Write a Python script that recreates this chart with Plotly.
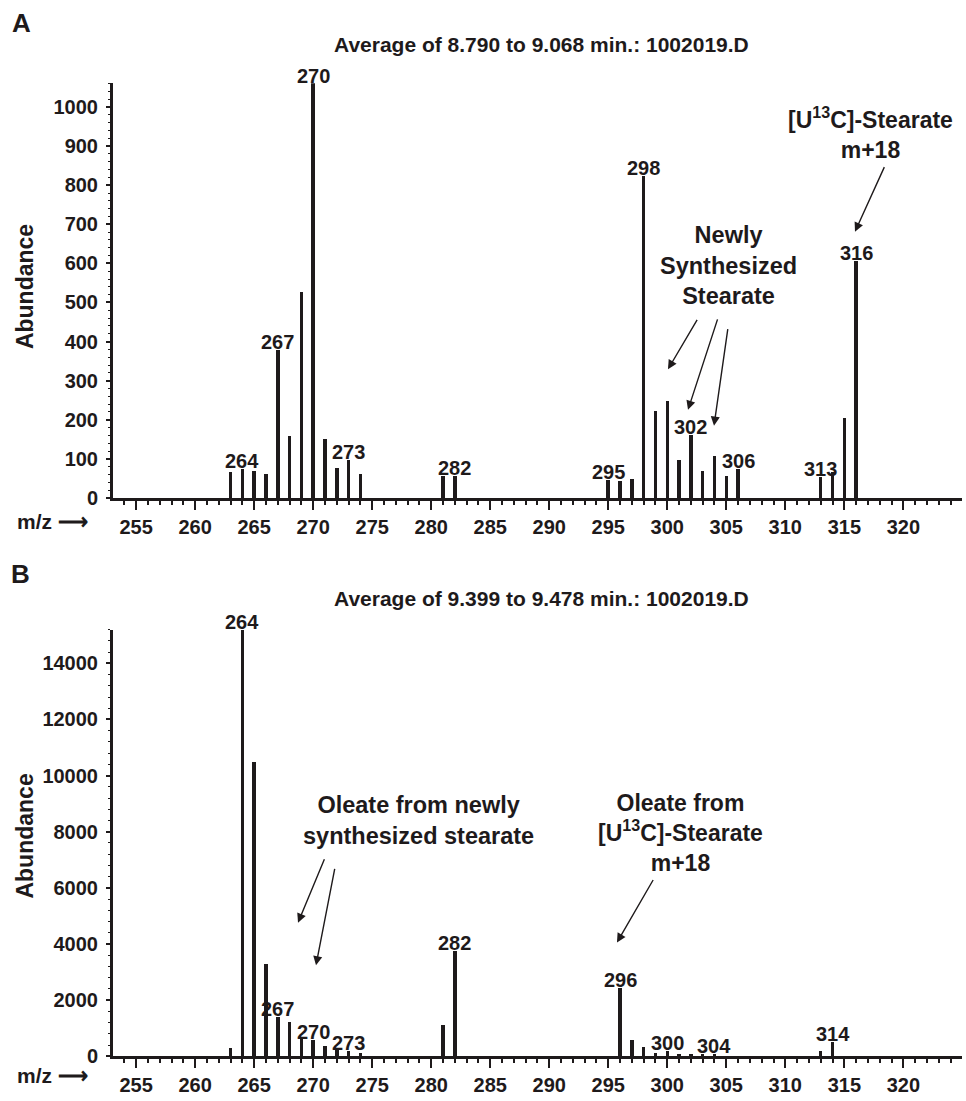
import plotly.graph_objects as go

# ---------------- data ----------------
A_mz = [263, 264, 265, 266, 267, 268, 269, 270, 271, 272, 273, 274, 281, 282,
        295, 296, 297, 298, 299, 300, 301, 302, 303, 304, 305, 306, 313, 314, 315, 316]
A_ab = [65, 73, 68, 61, 379, 157, 527, 1060, 151, 77, 96, 62, 56, 56,
        46, 42, 47, 823, 223, 247, 97, 161, 69, 108, 57, 73, 54, 66, 205, 605]
A_labels = [264, 267, 270, 273, 282, 295, 298, 302, 306, 313, 316]

B_mz = [263, 264, 265, 266, 267, 268, 269, 270, 271, 272, 273, 274, 281, 282,
        296, 297, 298, 299, 300, 301, 302, 303, 304, 313, 314]
B_ab = [300, 15200, 10500, 3300, 1400, 1220, 640, 590, 380, 280, 200, 140, 1120, 3750,
        2450, 590, 350, 130, 190, 100, 100, 100, 90, 190, 520]
B_labels = [264, 267, 270, 273, 282, 296, 300, 304, 314]

A_yticks = [0, 100, 200, 300, 400, 500, 600, 700, 800, 900, 1000]
B_yticks = [0, 2000, 4000, 6000, 8000, 10000, 12000, 14000]

A_title = "Average of 8.790 to 9.068 min.: 1002019.D"
B_title = "Average of 9.399 to 9.478 min.: 1002019.D"

# ---------------- style ----------------
W, H = 966, 1101
DARK = "#1e1a1b"
FONT = "Liberation Sans"


def px(x):
    return x / W


def py(y):
    return 1 - y / H


fig = go.Figure()
fig.add_trace(go.Bar(x=A_mz, y=A_ab, width=0.3, marker=dict(color=DARK, line=dict(width=0)),
                     xaxis="x", yaxis="y", hoverinfo="x+y"))
fig.add_trace(go.Bar(x=B_mz, y=B_ab, width=0.3, marker=dict(color=DARK, line=dict(width=0)),
                     xaxis="x2", yaxis="y2", hoverinfo="x+y"))

tickfont = dict(family=FONT, size=20, color=DARK, weight="bold")
xdom = [px(113), px(962)]


def xaxis_cfg(anchor):
    return dict(domain=xdom, anchor=anchor, range=[253.04, 324.97],
                tickmode="linear", tick0=255, dtick=5, ticks="outside", ticklen=9, tickwidth=2,
                tickcolor=DARK, showline=True, linewidth=3, linecolor=DARK,
                showgrid=False, zeroline=False, tickfont=tickfont, ticklabelstandoff=0,
                minor=dict(tick0=255, dtick=1, ticks="outside", ticklen=4,
                           tickwidth=2, tickcolor=DARK, showgrid=False))


def yaxis_cfg(anchor, dom, rng, vals, mdt):
    return dict(domain=dom, anchor=anchor, range=rng, tickmode="array", tickvals=vals,
                tickformat="d",
                ticks="outside", ticklen=4, tickwidth=2, tickcolor=DARK, showline=True,
                linewidth=3, linecolor=DARK, showgrid=False, zeroline=False, tickfont=tickfont,
                ticklabelstandoff=4,
                minor=dict(tick0=0, dtick=mdt, ticks="outside", ticklen=2,
                           tickwidth=1, tickcolor=DARK, showgrid=False))


annotations = []


def text(x, y, s, size, **kw):
    annotations.append(dict(xref="paper", yref="paper", x=px(x), y=py(y), text=s,
                            showarrow=False, xanchor="center", yanchor="middle",
                            font=dict(family=FONT, size=size, color=DARK, weight="bold"), **kw))


def arrow(tx, ty, hx, hy):
    annotations.append(dict(xref="paper", yref="paper", x=px(hx), y=py(hy), ax=tx - hx, ay=ty - hy,
                            axref="pixel", ayref="pixel", text="", showarrow=True, arrowhead=2,
                            arrowsize=1.3, arrowwidth=1.4, arrowcolor=DARK, standoff=0))


# peak labels (positioned at data values)
for mz in A_labels:
    annotations.append(dict(xref="x", yref="y", x=mz, y=A_ab[A_mz.index(mz)], text=str(mz),
                            showarrow=False, yanchor="bottom", yshift=-5,
                            font=dict(family=FONT, size=20, color=DARK, weight="bold")))
for mz in B_labels:
    annotations.append(dict(xref="x2", yref="y2", x=mz, y=B_ab[B_mz.index(mz)], text=str(mz),
                            showarrow=False, yanchor="bottom", yshift=-5,
                            font=dict(family=FONT, size=20, color=DARK, weight="bold")))

# panel letters / titles
text(21, 23, "A", 26)
text(20, 580, "B", 26)
text(541, 45, A_title, 21)
text(541, 605, B_title, 21)
# y titles
text(25, 290, "Abundance", 23, textangle=-90)
text(25, 845, "Abundance", 23, textangle=-90)
# m/z labels
text(52, 527, "m/z ⟶", 21)
text(52, 1086, "m/z ⟶", 21)

# Panel A callouts
text(870, 134, "[U<sup>13</sup>C]-Stearate<br>m+18", 23)
arrow(885, 168, 855, 234)
text(728, 268, "Newly<br>Synthesized<br>Stearate", 23.5)
arrow(698, 322, 668, 373)
arrow(718, 322, 688, 414)
arrow(728, 332, 714, 430)

# Panel B callouts
text(418, 829, "Oleate from newly<br>synthesized stearate", 23.5)
arrow(325, 867, 298, 932)
arrow(335, 877, 316, 975)
text(680, 841, "Oleate from<br>[U<sup>13</sup>C]-Stearate<br>m+18", 23)
arrow(654, 888, 617, 952)

fig.update_layout(
    width=W, height=H, margin=dict(l=0, r=0, t=0, b=0),
    paper_bgcolor="white", plot_bgcolor="white", showlegend=False, bargap=0,
    xaxis=xaxis_cfg("y"),
    yaxis=yaxis_cfg("x", [py(503), py(84)], [0, 1061], A_yticks, 20),
    xaxis2=xaxis_cfg("y2"),
    yaxis2=yaxis_cfg("x2", [py(1067), py(636)], [0, 15200], B_yticks, 400),
    annotations=annotations,
)

fig.write_html("out.html")
